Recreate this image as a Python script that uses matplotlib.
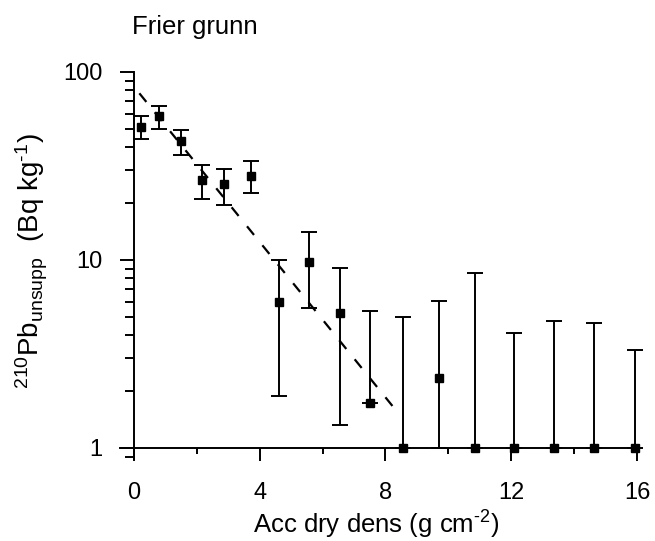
import matplotlib
matplotlib.use("Agg")
import matplotlib.pyplot as plt
from matplotlib.ticker import LogLocator, NullFormatter, FixedLocator

plt.rcParams['font.family'] = ['Liberation Sans', 'DejaVu Sans']
plt.rcParams['mathtext.fontset'] = 'custom'
plt.rcParams['mathtext.rm'] = 'Liberation Sans'
plt.rcParams['mathtext.it'] = 'Liberation Sans:italic'
plt.rcParams['mathtext.default'] = 'regular'

# data
dens = [0.23, 0.81, 1.48, 2.17, 2.87, 3.73, 4.60, 5.57, 6.56, 7.50,
        8.56, 9.69, 10.84, 12.10, 13.35, 14.62, 15.95]
pb = [51, 58.4, 43, 26.7, 25.3, 27.9, 5.96, 9.7, 5.2, 1.74,
      1, 2.37, 1, 1, 1, 1, 1]
pb_hi = [58, 66, 49, 32, 30.5, 33.6, 9.96, 14, 9.1, 5.35,
         4.95, 6.05, 8.5, 4.07, 4.72, 4.6, 3.3]
pb_lo = [44, 50, 36, 21, 19.6, 22.6, 1.89, 5.53, 1.32, 1.74,
         1, 1, 1, 1, 1, 1, 1]

# fitted line end points
fit_x = [0.17, 8.25]
fit_y = [77, 1.65]

err_lo = [v - lo for v, lo in zip(pb, pb_lo)]
err_hi = [hi - v for v, hi in zip(pb, pb_hi)]

fig = plt.figure(figsize=(6.55, 5.41), dpi=100)
ax = fig.add_axes([0.183, 0.1516, 0.7895, 0.7154])

ax.errorbar(dens, pb, yerr=[err_lo, err_hi], fmt='s', color='black',
            ms=6, elinewidth=1.4, capsize=6, capthick=1.4, clip_on=False)
line, = ax.plot(fit_x, fit_y, color='black', lw=1.6, ls='--')
line.set_dashes([5, 6])

ax.set_yscale('log')
ax.set_xlim(-0.45, 16)
ax.set_ylim(0.874, 100)

ax.spines['left'].set_position(('data', 0))
ax.spines['bottom'].set_position(('data', 1))
ax.spines['right'].set_visible(False)
ax.spines['top'].set_visible(False)
for s in ['left', 'bottom']:
    ax.spines[s].set_linewidth(1.4)

ax.xaxis.set_major_locator(FixedLocator([0, 4, 8, 12, 16]))
ax.xaxis.set_minor_locator(FixedLocator([2, 6, 10, 14]))
ax.set_xticklabels(['0', '4', '8', '12', '16'])
ax.yaxis.set_major_locator(FixedLocator([1, 10, 100]))
ax.set_yticklabels(['1', '10', '100'])
ax.yaxis.set_minor_locator(LogLocator(base=10, subs=range(2, 10)))
ax.yaxis.set_minor_formatter(NullFormatter())

ax.tick_params(axis='x', which='major', direction='out', length=9,
               width=1.4, labelsize=17, pad=15.5)
ax.tick_params(axis='x', which='minor', direction='out', length=4.5, width=1.4)
ax.tick_params(axis='y', which='major', direction='out', length=10,
               width=1.4, labelsize=17, pad=12.5)
ax.tick_params(axis='y', which='minor', direction='out', length=6.5, width=1.4)

ax.set_xlabel(r'Acc dry dens (g cm$^{\text{-2}}$)', fontsize=18.5, va='top')
ax.xaxis.set_label_coords(0.495, -0.128)
ax.set_ylabel(r'$^{210}$Pb$_{unsupp}$  (Bq kg$^{\text{-1}}$)', fontsize=20)
ax.yaxis.set_label_coords(-0.135, 0.51)

fig.text(132 / 655, 1 - 34 / 541, 'Frier grunn', fontsize=18.5,
         ha='left', va='baseline')

fig.savefig('out.png', dpi=100)
